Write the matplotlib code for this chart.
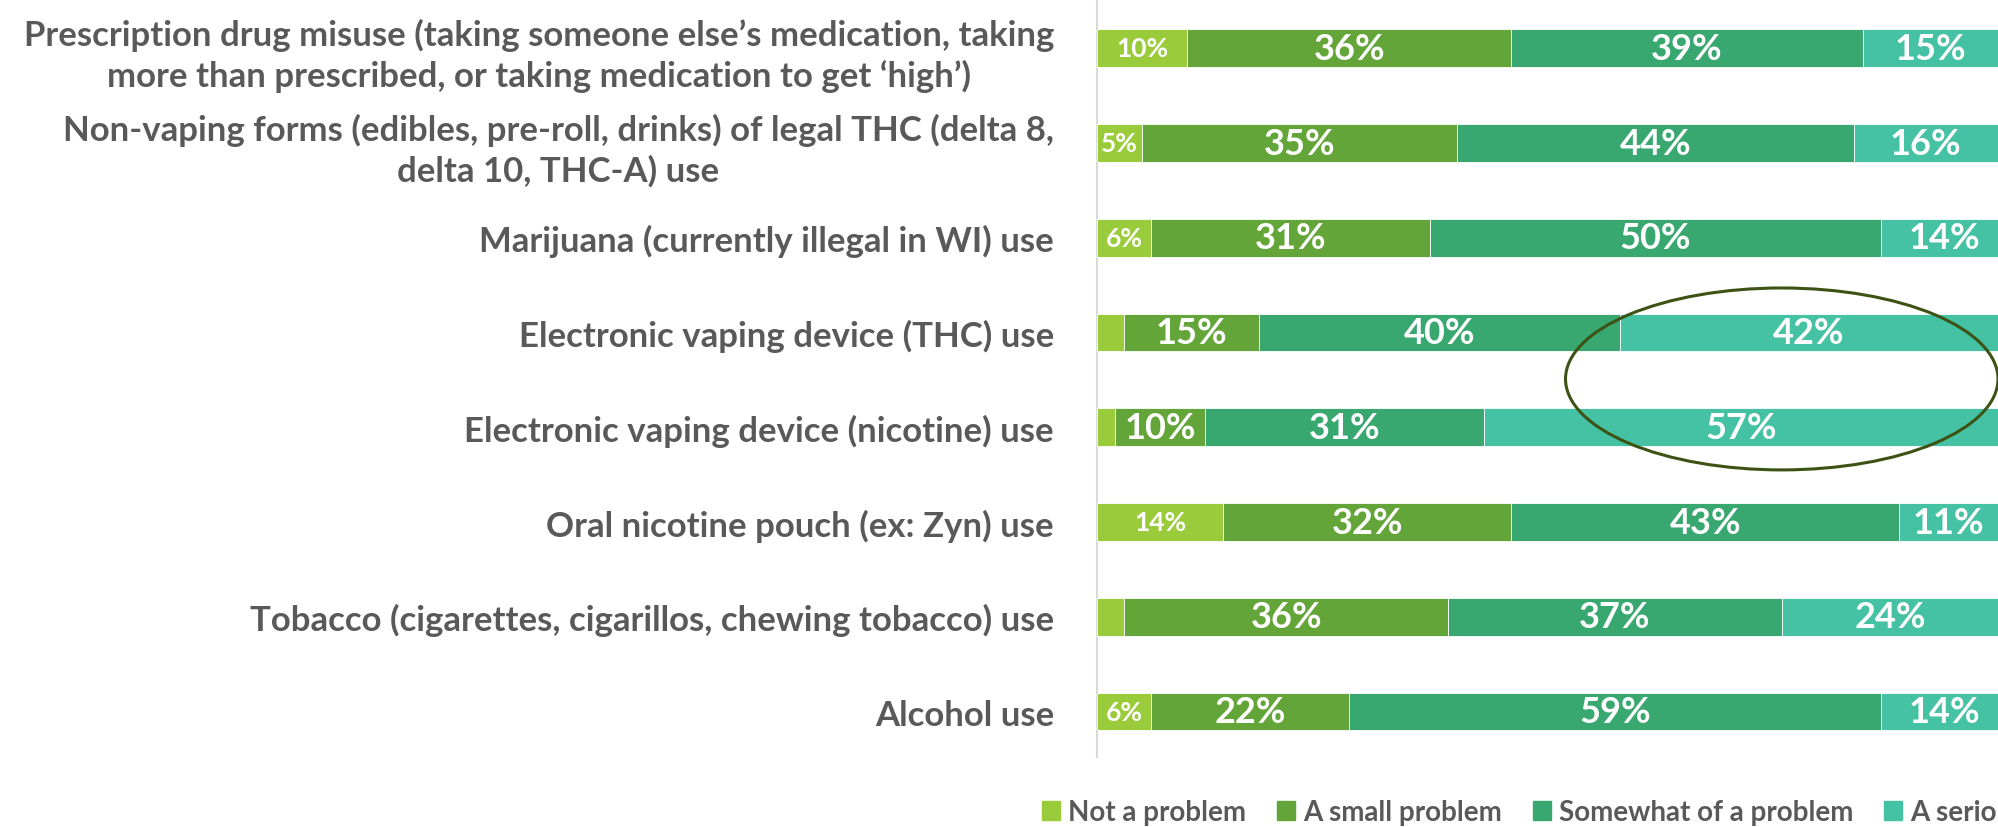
import matplotlib
matplotlib.use("Agg")
import matplotlib.pyplot as plt
from matplotlib.patches import Ellipse, Rectangle
import numpy as np

plt.rcParams['font.family'] = ['Lato', 'DejaVu Sans']

categories = [
    "Prescription drug misuse (taking someone else\u2019s medication, taking\nmore than prescribed, or taking medication to get \u2018high\u2019)",
    "Non-vaping forms (edibles, pre-roll, drinks) of legal THC (delta 8,\ndelta 10, THC-A) use",
    "Marijuana (currently illegal in WI) use",
    "Electronic vaping device (THC) use",
    "Electronic vaping device (nicotine) use",
    "Oral nicotine pouch (ex: Zyn) use",
    "Tobacco (cigarettes, cigarillos, chewing tobacco) use",
    "Alcohol use",
]
series_names = ["Not a problem", "A small problem", "Somewhat of a problem", "A serious problem"]
not_a_problem = [10, 5, 6, 3, 2, 14, 3, 6]
small_problem = [36, 35, 31, 15, 10, 32, 36, 22]
somewhat_problem = [39, 44, 50, 40, 31, 43, 37, 59]
serious_problem = [15, 16, 14, 42, 57, 11, 24, 14]

colors = ["#9ACB3A", "#63A538", "#38A870", "#45C1A3"]
text_gray = "#595959"

W, H = 1998, 828
fig = plt.figure(figsize=(W / 100, H / 100), dpi=100)
ax_left = 1097 / W
ax = fig.add_axes([ax_left, (H - 758) / H, 1 - ax_left, 758 / H])

series = [not_a_problem, small_problem, somewhat_problem, serious_problem]
y = np.arange(len(categories))
left = np.zeros(len(categories))
for k, (vals, col) in enumerate(zip(series, colors)):
    vals = np.array(vals, dtype=float)
    bars = ax.barh(y, vals, left=left, height=0.40, color=col, edgecolor='white', linewidth=0.6, zorder=3)
    for i, (b, v) in enumerate(zip(bars, vals)):
        if v >= 5:
            fs = 19 if k == 0 else 26
            ax.text(left[i] + v / 2, y[i], f"{int(v)}%", ha='center', va='center',
                    color='white', fontsize=fs, fontweight='bold', zorder=4)
    left += vals

ax.set_xlim(0, 100)
ax.set_ylim(7.48, -0.52)
ax.set_yticks(y)
ax.set_yticklabels(categories, fontsize=25, fontweight='bold', color=text_gray,
                   multialignment='center', linespacing=1.27)
ax.tick_params(axis='y', length=0, pad=31)
ax.set_xticks([])
for s in ['top', 'right', 'bottom']:
    ax.spines[s].set_visible(False)
ax.spines['left'].set_color('#D9D9D9')
ax.spines['left'].set_linewidth(1.5)

ell = Ellipse((76, 3.49), width=48, height=1.92, fill=False, edgecolor='#3D5316',
              linewidth=2.2, zorder=5, clip_on=False)
ax.add_patch(ell)

handles = [Rectangle((0, 0), 1, 1, color=c) for c in colors]
fig.legend(handles, series_names, loc='center left', bbox_to_anchor=(1042 / W, 1 - 813 / H),
           ncol=4, frameon=False, handlelength=0.65, handleheight=0.7, handletextpad=0.3,
           columnspacing=1.1, prop={'size': 20, 'weight': 'bold'}, labelcolor=text_gray,
           borderaxespad=0, borderpad=0)

fig.savefig("out.png", dpi=100)
